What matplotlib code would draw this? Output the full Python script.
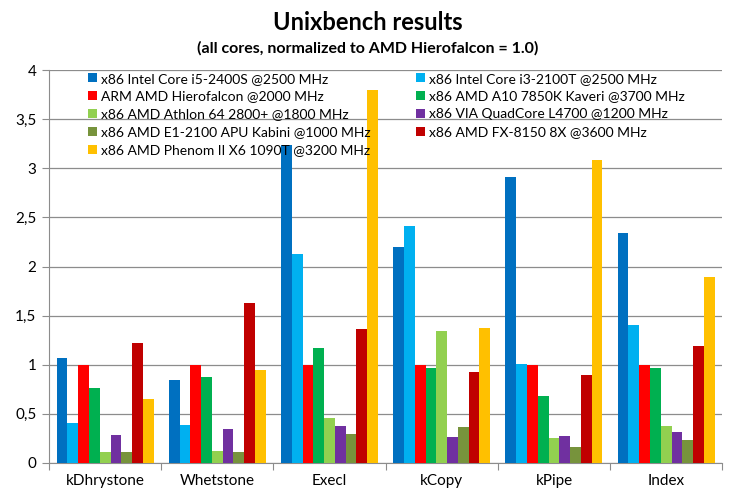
import matplotlib.pyplot as plt
import numpy as np

# benchmark groups
tests = ["kDhrystone", "Whetstone", "Execl", "kCopy", "kPipe", "Index"]

cpus = [
    "x86 Intel Core i5-2400S @2500 MHz",
    "x86 Intel Core i3-2100T @2500 MHz",
    "ARM AMD Hierofalcon @2000 MHz",
    "x86 AMD A10 7850K Kaveri @3700 MHz",
    "x86 AMD Athlon 64 2800+ @1800 MHz",
    "x86 VIA QuadCore L4700 @1200 MHz",
    "x86 AMD E1-2100 APU Kabini @1000 MHz",
    "x86 AMD FX-8150 8X @3600 MHz",
    "x86 AMD Phenom II X6 1090T @3200 MHz",
]
colors = ["#0070C0", "#00B0F0", "#FF0000", "#00B050", "#92D050",
          "#7030A0", "#77933C", "#C00000", "#FFC000"]

# values per cpu, one per test
i5 = [1.07, 0.84, 3.24, 2.20, 2.91, 2.34]
i3 = [0.41, 0.39, 2.13, 2.41, 1.01, 1.40]
arm = [1.0, 1.0, 1.0, 1.0, 1.0, 1.0]
a10 = [0.76, 0.88, 1.17, 0.97, 0.68, 0.97]
athlon = [0.11, 0.12, 0.46, 1.34, 0.25, 0.38]
via = [0.28, 0.35, 0.38, 0.26, 0.27, 0.32]
e1 = [0.11, 0.11, 0.30, 0.37, 0.16, 0.23]
fx = [1.22, 1.63, 1.36, 0.93, 0.90, 1.19]
phenom = [0.65, 0.95, 3.80, 1.37, 3.08, 1.89]
series = [i5, i3, arm, a10, athlon, via, e1, fx, phenom]

plt.rcParams['font.family'] = ['Lato', 'DejaVu Sans']

fig = plt.figure(figsize=(7.35, 5), dpi=100)
ax = fig.add_axes([0.0667, 0.074, 0.916, 0.786])

w = 0.096
x = np.arange(len(tests)) + 0.5
handles = []
for j, vals in enumerate(series):
    b = ax.bar(x + (j - 4) * w, vals, w, color=colors[j], label=cpus[j], zorder=3)
    handles.append(b)

ax.set_xlim(0, len(tests))
ax.set_ylim(0, 4)
ax.set_yticks(np.arange(0, 4.01, 0.5))
ax.set_yticklabels(["0", "0,5", "1", "1,5", "2", "2,5", "3", "3,5", "4"], fontsize=11)
ax.yaxis.grid(True, color="#8c8c8c", linewidth=0.9, zorder=0)
ax.tick_params(axis="y", length=5, color="#8c8c8c", pad=4)

ax.set_xticks(np.arange(0, len(tests) + 1), minor=False)
ax.set_xticklabels([])
ax.tick_params(axis="x", length=5, color="#8c8c8c")
ax.set_xticks(x, minor=True)
ax.set_xticklabels(tests, minor=True, fontsize=11)
ax.tick_params(axis="x", which="minor", length=0, pad=8)

for s in ["top", "right"]:
    ax.spines[s].set_visible(False)
for s in ["left", "bottom"]:
    ax.spines[s].set_color("#8c8c8c")

# legend filled row by row (two columns)
order = [0, 2, 4, 6, 8, 1, 3, 5, 7]
ax.legend([handles[k] for k in order], [cpus[k] for k in order],
          ncol=2, frameon=False, fontsize=10, loc="upper left",
          bbox_to_anchor=(0.04, 1.025), handlelength=0.6, handleheight=0.6,
          handletextpad=0.3, columnspacing=3.3, labelspacing=0.42)

fig.text(0.5, 0.955, "Unixbench results", ha="center", va="center",
         fontsize=17, fontweight="bold")
fig.text(0.5, 0.903, "(all cores, normalized to AMD Hierofalcon = 1.0)",
         ha="center", va="center", fontsize=11.5, fontweight="bold")

fig.savefig("out.png", dpi=100)
